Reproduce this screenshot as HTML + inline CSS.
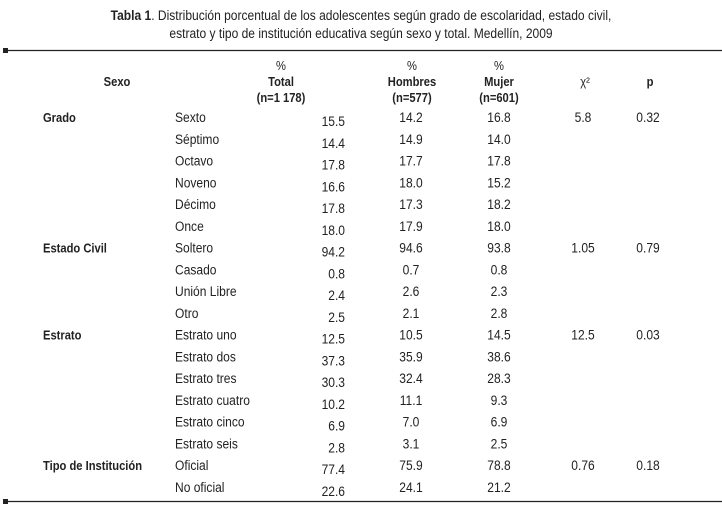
<!DOCTYPE html>
<html><head><meta charset="utf-8"><style>
html,body{margin:0;padding:0;background:#fff;}
svg{display:block;font-family:"Liberation Sans",sans-serif;}
</style></head><body>
<svg id="t" width="722" height="522" xmlns="http://www.w3.org/2000/svg">
<rect x="3" y="48" width="5" height="5" fill="#222"/>
<line x1="6" y1="50.5" x2="722" y2="50.5" stroke="#222" stroke-width="1.2"/>
<rect x="3" y="499" width="5" height="5" fill="#222"/>
<line x1="6" y1="501.5" x2="722" y2="501.5" stroke="#222" stroke-width="1.2"/>
<text transform="translate(361,20) scale(0.86,1)" text-anchor="middle" font-size="14" fill="#222"><tspan font-weight="bold">Tabla 1</tspan>. Distribución porcentual de los adolescentes según grado de escolaridad, estado civil,</text>
</svg>
<script>
const groups=["Grado","","","","","","Estado Civil","","","","Estrato","","","","","","Tipo de Institución",""];
const labels=["Sexto","Séptimo","Octavo","Noveno","Décimo","Once","Soltero","Casado","Unión Libre","Otro","Estrato uno","Estrato dos","Estrato tres","Estrato cuatro","Estrato cinco","Estrato seis","Oficial","No oficial"];
const total=["15.5","14.4","17.8","16.6","17.8","18.0","94.2","0.8","2.4","2.5","12.5","37.3","30.3","10.2","6.9","2.8","77.4","22.6"];
const hombres=["14.2","14.9","17.7","18.0","17.3","17.9","94.6","0.7","2.6","2.1","10.5","35.9","32.4","11.1","7.0","3.1","75.9","24.1"];
const mujer=["16.8","14.0","17.8","15.2","18.2","18.0","93.8","0.8","2.3","2.8","14.5","38.6","28.3","9.3","6.9","2.5","78.8","21.2"];
const chi=["5.8","","","","","","1.05","","","","12.5","","","","","","0.76",""];
const pval=["0.32","","","","","","0.79","","","","0.03","","","","","","0.18",""];
const svg=document.getElementById('t');
const NS="http://www.w3.org/2000/svg";
function txt(s,x,y,anchor,size,bold,name){
  const t=document.createElementNS(NS,'text');
  t.setAttribute('transform','translate('+x+','+y+') scale(0.86,1)');
  t.setAttribute('text-anchor',anchor);
  t.setAttribute('font-size',size);
  t.setAttribute('fill','#222');
  if(bold)t.setAttribute('font-weight','bold');
  t.textContent=s;
  
  
  svg.appendChild(t);
}
txt("estrato y tipo de institución educativa según sexo y total. Medellín, 2009",361,38,'middle',14,false,'table-title-line2');
txt("Sexo",117,86,'middle',13,true,'header-sexo');
txt("%",281,70,'middle',13,false,'header-total-pct');
txt("Total",281,86,'middle',13,true,'header-total');
txt("(n=1 178)",281,102,'middle',13,true,'header-total-n');
txt("%",412,70,'middle',13,false,'header-hombres-pct');
txt("Hombres",412,86,'middle',13,true,'header-hombres');
txt("(n=577)",412,102,'middle',13,true,'header-hombres-n');
txt("%",499,70,'middle',13,false,'header-mujer-pct');
txt("Mujer",499,86,'middle',13,true,'header-mujer');
txt("(n=601)",499,102,'middle',13,true,'header-mujer-n');
txt("χ²",585,86,'middle',13,false,'header-chi2');
txt("p",650,86,'middle',13,true,'header-p');
const y0=122, dy=21.76;
for(let i=0;i<labels.length;i++){
  const y=y0+i*dy;
  if(groups[i])txt(groups[i],43,y,'start',13,true,'group-label');
  txt(labels[i],175,y,'start',14,false,'row-label');
  txt(total[i],345,y+4,'end',14,false,'cell-total');
  txt(hombres[i],411,y,'middle',14,false,'cell-hombres');
  txt(mujer[i],499,y,'middle',14,false,'cell-mujer');
  if(chi[i])txt(chi[i],583,y,'middle',14,false,'cell-chi2');
  if(pval[i])txt(pval[i],648,y,'middle',14,false,'cell-p');
}
</script>
</body></html>
